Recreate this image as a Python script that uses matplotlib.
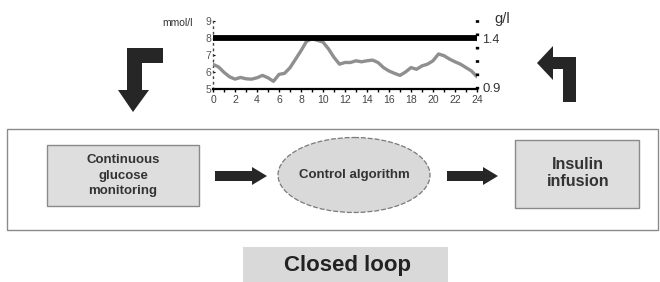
import matplotlib
matplotlib.use("Agg")
import matplotlib.pyplot as plt
from matplotlib.patches import Rectangle, Ellipse, Polygon

plt.rcParams['font.family'] = ['Liberation Sans', 'DejaVu Sans']

# ---- data ----
hours = [0, 0.5, 1, 1.5, 2, 2.5, 3, 3.5, 4, 4.5, 5, 5.5, 6, 6.5, 7, 7.5, 8, 8.5,
         9, 9.5, 10, 10.5, 11, 11.5, 12, 12.5, 13, 13.5, 14, 14.5, 15, 15.5, 16,
         16.5, 17, 17.5, 18, 18.5, 19, 19.5, 20, 20.5, 21, 21.5, 22, 22.5, 23,
         23.5, 24]
glucose = [6.45, 6.3, 5.98, 5.72, 5.58, 5.68, 5.6, 5.58, 5.66, 5.8, 5.66, 5.45,
           5.86, 5.92, 6.25, 6.75, 7.25, 7.8, 7.96, 7.86, 7.76, 7.36, 6.86, 6.46,
           6.56, 6.56, 6.66, 6.6, 6.66, 6.7, 6.56, 6.26, 6.06, 5.92, 5.8, 6.0,
           6.26, 6.16, 6.36, 6.46, 6.66, 7.06, 6.96, 6.76, 6.6, 6.46, 6.26, 6.06,
           5.72]
x_ticks = list(range(0, 25, 2))
y_ticks = [5, 6, 7, 8, 9]
upper_limit = 8
lower_limit = 5
right_labels = ["1.4", "0.9"]
boxes = ["Continuous\nglucose\nmonitoring", "Control algorithm", "Insulin\ninfusion"]
title = "Closed loop"

W, H = 660, 282
fig = plt.figure(figsize=(W / 100, H / 100), dpi=100)

# background axes in pixel coordinates
bg = fig.add_axes([0, 0, 1, 1])
bg.set_xlim(0, W)
bg.set_ylim(H, 0)
bg.axis('off')

edge = '#8a8a8a'
fill = '#dedede'
dark = '#262626'

# outer frame
bg.add_patch(Rectangle((7, 129), 651, 101, fill=False, ec=edge, lw=1.0))
# CGM box
bg.add_patch(Rectangle((47, 145), 152, 61, fc=fill, ec=edge, lw=1.0))
bg.text(123, 175.5, boxes[0], ha='center', va='center', fontsize=9.5,
        fontweight='bold', color='#333333', linespacing=1.38)
# ellipse
bg.add_patch(Ellipse((354, 175), 152, 75, fc='#d9d9d9', ec='#7a7a7a', lw=0.9,
                     ls=(0, (4, 1.5))))
bg.text(354, 175, boxes[1], ha='center', va='center', fontsize=9.5,
        fontweight='bold', color='#333333')
# insulin box
bg.add_patch(Rectangle((515, 140), 124, 68, fc=fill, ec=edge, lw=1.0))
bg.text(578, 173, boxes[2], ha='center', va='center', fontsize=11.5,
        fontweight='bold', color='#333333', linespacing=1.15)

# straight arrows
def right_arrow(x0, x1, yc, shaft=10, head=18, headlen=15):
    pts = [(x0, yc - shaft / 2), (x1 - headlen, yc - shaft / 2),
           (x1 - headlen, yc - head / 2), (x1, yc), (x1 - headlen, yc + head / 2),
           (x1 - headlen, yc + shaft / 2), (x0, yc + shaft / 2)]
    bg.add_patch(Polygon(pts, closed=True, fc=dark, ec='none'))

right_arrow(215, 267, 176)
right_arrow(447, 498, 176)

# left elbow arrow (right then down)
left_pts = [(163, 48), (163, 63), (142, 63), (142, 90), (149, 90), (133, 112),
            (118, 90), (127, 90), (127, 48)]
bg.add_patch(Polygon(left_pts, closed=True, fc=dark, ec='none'))
# right elbow arrow (up then left)
right_pts = [(576, 102), (563, 102), (563, 69), (553, 69), (553, 80), (537, 63),
             (553, 46), (553, 57), (576, 57)]
bg.add_patch(Polygon(right_pts, closed=True, fc=dark, ec='none'))

# closed loop label
bg.add_patch(Rectangle((243, 247), 205, 35, fc='#d9d9d9', ec='none'))
bg.text(347, 265, title, ha='center', va='center', fontsize=16,
        fontweight='bold', color='#222222')

# ---- chart ----
x_left, x_right = 213, 477
y5, y9 = 89, 21
ax = fig.add_axes([x_left / W, 1 - y5 / H, (x_right - x_left) / W, (y5 - y9) / H])
ax.patch.set_alpha(0)
ax.set_xlim(0, 24)
ax.set_ylim(5, 9)
ax.plot(hours, glucose, color='#8f8f8f', lw=2.4, solid_capstyle='round',
        solid_joinstyle='round', zorder=3)
ax.axhline(upper_limit, color='black', lw=4.2, zorder=4)
for s in ['top', 'right']:
    ax.spines[s].set_visible(False)
ax.spines['bottom'].set_linewidth(1.6)
ax.spines['left'].set_linestyle((0, (1, 3)))
ax.spines['left'].set_linewidth(1.0)
ax.spines['left'].set_color('#444444')
ax.set_xticks(x_ticks)
ax.set_xticks(range(0, 25), minor=True)
ax.tick_params(axis='x', which='both', direction='out', length=2, width=1.0,
               labelsize=7.5, labelcolor='#444444', pad=2)
ax.set_yticks(y_ticks)
ax.tick_params(axis='y', which='both', direction='in', length=1.5, width=0.8,
               labelsize=7.5, labelcolor='#555555', pad=1)

# right dotted axis
ax.plot([24, 24], [lower_limit, 9.4], ls=(0, (0.8, 3.2)), lw=2.4, color='black',
        clip_on=False, zorder=5)
ax.text(24.5, upper_limit - 0.12, right_labels[0], ha='left', va='center',
        fontsize=9, color='#333333', clip_on=False)
ax.text(24.5, lower_limit, right_labels[1], ha='left', va='center', fontsize=9.5,
        color='#333333', clip_on=False)
ax.text(26.3, 9.12, "g/l", ha='center', va='center', fontsize=10.5,
        color='#333333', clip_on=False)
ax.text(-3.2, 8.88, "mmol/l", ha='center', va='center', fontsize=7.5,
        color='#333333', clip_on=False)

fig.savefig('out.png', dpi=100)
